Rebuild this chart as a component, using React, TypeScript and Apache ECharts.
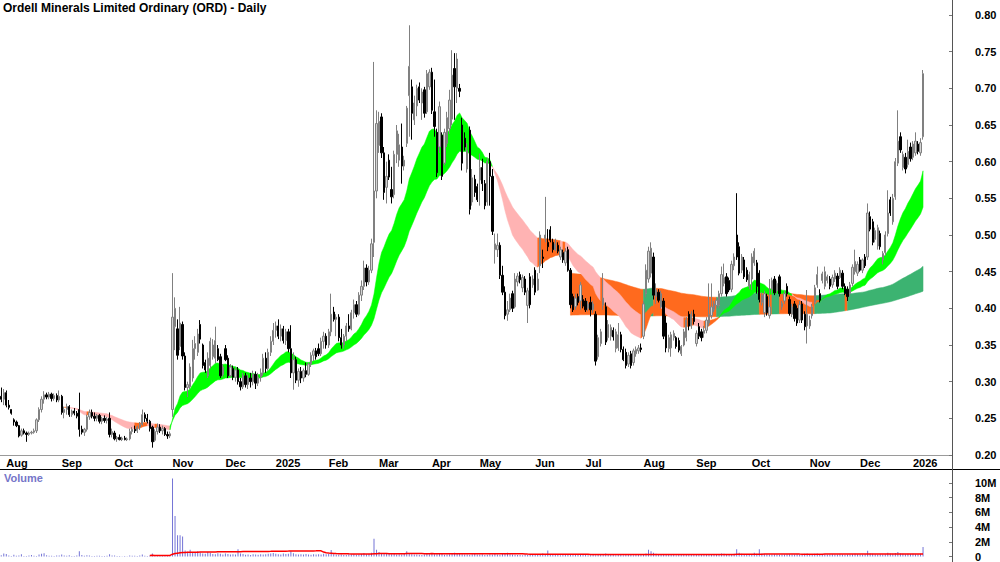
import React, { useEffect, useRef } from 'react';
import * as echarts from 'echarts';

// ---------- DATA (prices in thousandths of a dollar: [open, high, low, close]) ----------
const jul24 = [[280,292,272,276],[276,290,268,285]];
const aug24 = [[285,288,265,268],[268,275,262,265],[262,262,255,257],[248,250,240,245],[245,247,238,240],[240,241,224,226],[227,236,225,233],[233,236,228,230],[230,232,218,228],[228,232,226,230],[230,233,228,231],[231,236,229,233],[233,250,230,248],[248,265,245,262],[262,280,258,276],[276,287,270,282],[282,285,276,279],[279,286,276,283],[283,285,273,277],[277,284,274,281],[281,284,272,275],[275,288,272,280]];
const sep24 = [[280,282,255,258],[258,266,250,262],[262,270,255,266],[266,268,252,255],[255,262,252,260],[260,264,254,257],[257,260,250,253],[262,285,225,235],[235,240,228,231],[231,237,226,235],[235,255,232,252],[252,262,248,258],[258,262,250,253],[253,258,246,250],[250,256,246,254],[254,256,243,246],[246,252,242,250],[250,254,244,247],[247,252,243,249],[250,258,224,228],[228,236,224,232]];
const oct24 = [[230,233,220,222],[222,226,218,224],[224,228,220,221],[221,225,219,223],[223,226,220,221],[221,224,219,222],[222,236,220,232],[232,238,228,235],[235,240,230,233],[233,240,230,238],[238,245,234,242],[242,262,240,255],[255,258,245,250],[250,256,243,246],[246,248,232,236],[238,240,210,218],[220,235,218,232],[232,243,228,238],[238,242,230,233],[233,240,228,236],[236,238,226,228],[228,232,222,226],[226,232,223,229]];
const nov24 = [[262,448,252,388],[375,415,343,400],[372,385,330,336],[348,402,343,380],[378,382,330,335],[335,340,288,292],[292,300,279,296],[293,325,290,320],[305,357,300,345],[345,362,330,352],[340,372,335,365],[378,384,352,358],[350,352,318,322],[326,330,312,316],[308,340,305,332],[322,360,318,355],[334,358,330,350],[332,375,325,356],[345,350,328,330],[334,338,305,308],[310,324,306,320]];
const dec24 = [[345,350,328,330],[332,336,305,308],[308,324,306,320],[318,322,302,306],[306,320,300,316],[316,320,296,300],[300,305,288,293],[293,312,290,308],[308,312,292,296],[296,310,290,305],[305,312,292,300],[300,315,295,310],[310,314,290,298],[298,312,294,306],[306,318,300,312],[312,338,308,332],[332,340,312,318],[318,345,315,340],[340,362,335,355],[355,380,350,370]];
const jan25 = [[370,382,360,376],[376,385,358,362],[362,378,355,372],[372,376,352,356],[356,372,350,368],[368,372,340,345],[345,377,305,312],[312,340,289,330],[330,334,298,302],[302,318,293,314],[314,320,298,305],[305,318,300,315],[315,326,306,310],[310,326,308,324],[324,340,320,336],[336,345,328,342],[342,346,330,334],[345,352,335,338],[338,360,335,355],[355,368,345,362],[362,366,345,350]];
const feb25 = [[350,372,346,368],[368,420,362,392],[395,402,382,385],[385,392,362,388],[388,392,355,360],[360,372,345,350],[350,365,345,362],[362,380,355,376],[376,392,368,372],[372,398,370,394],[394,412,386,405],[405,410,388,392],[392,422,390,418],[418,438,410,430],[430,465,425,455],[455,460,430,436],[436,458,432,452],[452,495,448,488],[490,736,470,560],[560,670,550,652]];
const mar25 = [[622,668,612,655],[661,666,605,612],[612,620,548,558],[565,600,543,580],[602,610,575,579],[562,593,543,552],[555,615,550,610],[610,650,598,642],[602,638,593,623],[620,652,570,594],[594,608,588,602],[625,676,620,673],[690,786,634,730],[702,712,630,666],[657,690,650,680],[676,705,662,700],[702,708,680,684],[680,700,657,695],[698,702,660,666],[668,725,665,720],[702,726,698,722]];
const apr25 = [[722,728,665,670],[668,712,634,648],[640,645,579,585],[620,682,612,675],[636,640,575,580],[598,645,595,640],[625,668,620,660],[645,698,638,684],[658,752,650,718],[727,748,657,702],[700,748,680,740],[700,706,688,696],[650,660,588,598],[632,640,615,620],[590,625,585,615],[643,648,528,535],[545,590,540,578],[576,582,552,558],[566,570,545,548]];
const may25 = [[575,611,540,592],[592,604,560,570],[570,575,535,540],[545,605,540,600],[600,612,540,580],[580,590,500,505],[480,502,461,488],[480,502,470,486],[486,490,440,445],[445,458,418,422],[422,430,385,390],[392,410,383,398],[398,420,395,414],[420,424,395,400],[402,448,400,440],[436,448,430,444],[446,450,434,439],[428,446,422,442],[440,444,418,422],[404,428,380,424],[443,448,400,405],[432,445,428,440]];
const jun25 = [[452,456,418,422],[425,448,424,440],[458,505,448,500],[470,480,455,468],[495,552,490,500],[490,508,478,484],[507,512,490,493],[490,495,476,480],[480,495,478,488],[486,490,475,478],[470,484,466,480],[476,480,462,466],[462,482,458,478],[480,484,450,452],[452,455,400,405],[416,420,395,398],[402,420,398,414],[416,420,404,408],[410,436,398,432],[412,418,400,403]];
const jul25 = [[410,414,395,398],[400,410,396,406],[408,416,389,398],[398,410,394,406],[392,396,322,328],[334,364,330,360],[352,372,348,368],[404,448,398,414],[402,408,350,354],[360,384,356,378],[362,378,356,374],[370,374,356,361],[345,372,340,368],[346,380,342,364],[364,368,340,344],[344,348,328,330],[340,345,318,322],[324,340,320,336],[338,342,318,322],[326,345,322,342],[338,348,334,344],[342,350,338,346],[346,352,340,344]];
const aug25 = [[362,410,358,406],[420,460,415,452],[440,484,435,478],[448,490,442,482],[470,476,412,418],[416,434,406,425],[422,426,408,411],[402,424,400,420],[410,414,358,362],[380,390,340,346],[345,364,340,360],[346,368,334,364],[360,370,356,366],[360,362,345,348],[356,360,340,343],[338,350,335,348],[350,372,348,368],[360,388,355,384],[392,396,370,376],[376,396,372,392],[392,398,378,382]];
const sep25 = [[352,370,348,366],[375,380,358,362],[368,372,355,360],[366,376,360,370],[370,388,366,384],[380,434,376,392],[390,434,386,402],[398,410,395,406],[404,414,400,411],[404,424,400,420],[420,457,416,446],[434,461,430,442],[443,448,416,420],[438,442,422,425],[426,465,422,460],[458,475,452,470],[500,557,466,470],[484,490,445,448],[452,474,448,470],[466,470,440,443],[452,456,436,439],[430,450,426,446]];
const oct25 = [[440,475,425,470],[462,482,458,478],[462,466,420,430],[448,452,408,412],[408,422,404,418],[394,424,388,420],[416,420,390,394],[390,440,386,402],[426,442,420,438],[440,444,418,421],[424,438,420,434],[443,446,416,420],[402,410,398,407],[410,424,406,420],[430,434,416,420],[412,416,390,393],[392,406,388,402],[406,410,382,386],[400,404,376,380],[384,410,380,405],[406,410,380,384],[392,396,370,375],[376,425,352,392]];
const nov25 = [[376,390,372,384],[390,406,386,402],[408,432,404,428],[432,457,428,446],[420,426,408,411],[438,450,434,447],[430,457,426,450],[438,446,434,443],[440,444,426,430],[432,446,428,442],[440,452,436,448],[444,448,426,430],[442,456,440,452],[448,452,426,430],[430,434,418,420],[426,430,410,416],[420,436,416,432],[434,460,430,456],[450,480,446,464],[448,464,444,460]];
const dec25 = [[466,470,450,452],[452,468,448,466],[470,474,455,458],[470,543,466,530],[525,532,505,508],[518,522,486,490],[494,510,490,506],[485,514,480,510],[502,506,480,484],[466,478,460,475],[476,505,472,500],[502,561,498,530],[548,552,526,530],[518,556,514,550],[552,605,548,600],[598,670,594,628],[634,640,612,616],[592,614,588,610],[606,612,584,590],[596,630,592,614],[620,626,600,604]];
const jan26 = [[606,628,602,624],[612,640,608,628],[624,628,610,614],[612,632,608,626],[634,725,630,720]];

// Volume, thousands of shares
const volJul24 = [180,420];
const volAug24 = [350,120,60,240,90,150,310,80,60,120,200,90,70,260,380,450,160,110,90,70,130,150];
const volSep24 = [260,140,90,180,70,60,120,700,210,90,170,120,80,60,110,90,70,60,100,310,130];
const volOct24 = [150,80,60,50,70,40,140,110,90,60,120,260,110,80,150,420,160,120,90,80,110,60,90];
const volNov24 = [10600,5500,2900,2900,2700,800,650,900,500,600,700,550,420,380,600,480,350,300,450,380,260];
const volDec24 = [420,350,280,300,260,1000,420,330,250,280,220,300,260,240,320,280,300,380,420,460];
const volJan25 = [380,300,260,420,350,380,700,450,320,280,300,260,350,280,240,300,280,320,260,380,300];
const volFeb25 = [350,880,320,280,240,260,200,220,300,260,320,240,280,340,480,300,360,520,2400,900];
const volMar25 = [600,450,380,420,350,300,360,280,300,260,380,700,420,300,280,260,240,220,280,360,300];
const volApr25 = [400,320,300,380,340,250,280,300,420,520,380,360,300,280,260,240,300,350,280];
const volMay25 = [260,300,220,240,320,280,420,260,240,480,360,520,300,260,240,220,200,180,240,220,260,300];
const volJun25 = [240,220,260,420,280,800,300,260,220,200,180,220,200,240,260,340,280,220,200,240];
const volJul25 = [200,180,160,220,180,300,240,200,420,260,220,200,180,240,200,180,220,260,200,180,220,200,240];
const volAug25 = [280,420,900,700,520,360,280,240,300,320,260,220,200,180,240,220,200,240,280,300,260];
const volSep25 = [260,240,220,200,240,300,280,260,240,300,420,380,300,280,320,360,980,520,360,300,280,260];
const volOct25 = [300,520,360,1000,400,340,300,260,280,320,260,240,280,260,300,320,280,260,300,280,320,360,420];
const volNov25 = [300,280,360,400,300,260,320,280,260,300,280,260,300,260,240,280,260,320,360,300];
const volDec25 = [280,260,300,780,420,360,300,280,300,260,300,520,400,360,480,620,420,360,320,380,340];
const volJan26 = [360,320,300,380,1300];

const START_DATE = '2024-07-30';
const HOLIDAYS = ['2024-12-25','2024-12-26','2025-01-01','2025-01-27','2025-04-18','2025-04-21','2025-04-25','2025-06-09','2025-12-25','2025-12-26','2026-01-01'];
const MONTHS = ['Jan','Feb','Mar','Apr','May','Jun','Jul','Aug','Sep','Oct','Nov','Dec'];
const PRICE_TICKS = { min: 0.2, max: 0.8, interval: 0.05 };
const VOL_TICKS = { min: 0, max: 11750000, interval: 2000000 };
const SHORT_FAST = 20, SHORT_SLOW = 40, SHORT_START = 25;
const LONG_EMA = 175, LONG_SMA = 330, LONG_START = 226, LONG_SLOPE_LAG = 2;
const VOL_MA = 60;
const EMPTY_SLOTS = 11;

// ---------- derived ----------
const ohlc: number[][] = [jul24, aug24, sep24, oct24, nov24, dec24, jan25, feb25, mar25, apr25, may25, jun25, jul25, aug25, sep25, oct25, nov25, dec25, jan26].flat();
const volumes: number[] = [volJul24, volAug24, volSep24, volOct24, volNov24, volDec24, volJan25, volFeb25, volMar25, volApr25, volMay25, volJun25, volJul25, volAug25, volSep25, volOct25, volNov25, volDec25, volJan26].flat().map((v) => v * 1000);
const N = ohlc.length;

function tradingDays(start: string, n: number) {
  const out: string[] = [];
  const d = new Date(start + 'T00:00:00Z');
  while (out.length < n) {
    const dow = d.getUTCDay();
    const s = d.toISOString().slice(0, 10);
    if (dow !== 0 && dow !== 6 && !HOLIDAYS.includes(s)) out.push(s);
    d.setUTCDate(d.getUTCDate() + 1);
  }
  return out;
}
const dates = tradingDays(START_DATE, N + EMPTY_SLOTS);
const monthStart = dates.map((d, i) => i > 0 && d.slice(5, 7) !== dates[i - 1].slice(5, 7));
const monthLabel = (d: string) => {
  const m = parseInt(d.slice(5, 7), 10);
  return m === 1 ? d.slice(0, 4) : MONTHS[m - 1];
};

const closes = ohlc.map((r) => r[3] / 1000);
function ema(arr: number[], p: number) {
  const k = 2 / (p + 1);
  const out: number[] = [];
  let e = arr[0];
  arr.forEach((v, i) => { e = i === 0 ? v : v * k + e * (1 - k); out.push(e); });
  return out;
}
function sma(arr: number[], p: number) {
  return arr.map((_, i) => {
    const a = Math.max(0, i - p + 1);
    let s = 0;
    for (let j = a; j <= i; j++) s += arr[j];
    return s / (i - a + 1);
  });
}
const sFast = ema(closes, SHORT_FAST), sSlow = ema(closes, SHORT_SLOW);
const lFast = ema(closes, LONG_EMA), lSlow = sma(closes, LONG_SMA);

const COLORS = ['#00ff00', '#ff6a1e', '#ffb3b3', '#3cb371'];
function buildRuns(state: (i: number) => number, start: number, up: number[], lo: number[]) {
  const res: number[][] = [];
  let s = start, cur = state(start + 1);
  for (let i = start + 1; i < N; i++) {
    const st = state(i);
    if (st !== cur) { res.push([s, i - 1, cur]); s = i - 1; cur = st; }
  }
  res.push([s, N - 1, cur]);
  return res.map(([a, b, c]) => {
    let mn = Infinity, mx = -Infinity;
    for (let i = a; i <= b; i++) { mn = Math.min(mn, up[i], lo[i]); mx = Math.max(mx, up[i], lo[i]); }
    return [a, b, c, mn, mx];
  });
}
const shortRuns = buildRuns((i) => (sFast[i] >= sSlow[i] ? 0 : closes[i] < Math.min(sFast[i], sSlow[i]) ? 2 : 1), SHORT_START, sFast, sSlow);
const longRuns = buildRuns((i) => (lFast[i] >= lFast[i - LONG_SLOPE_LAG] ? 3 : 1), LONG_START, lFast, lSlow);

const volMA = volumes.map((_, i) => {
  if (i < VOL_MA - 1) return null;
  let s = 0;
  for (let j = i - VOL_MA + 1; j <= i; j++) s += volumes[j];
  return s / VOL_MA;
});

const FONT = '"Liberation Sans Narrow", "Arial Narrow", "Liberation Sans", Arial, sans-serif';

function bandSeries(name: string, runs: number[][], up: number[], lo: number[], z: number) {
  return {
    name, type: 'custom', xAxisIndex: 0, yAxisIndex: 0, z, silent: true,
    encode: { x: [0, 1], y: [3, 4] },
    data: runs,
    renderItem: (_p: any, api: any) => {
      const a = api.value(0), b = api.value(1), c = api.value(2);
      const top: number[][] = [], bot: number[][] = [];
      for (let i = a; i <= b; i++) {
        top.push(api.coord([i, up[i]]));
        bot.push(api.coord([i, lo[i]]));
      }
      return {
        type: 'polygon',
        shape: { points: top.concat(bot.reverse()) },
        style: { fill: COLORS[c], stroke: COLORS[c], lineWidth: 0.5 },
      };
    },
  };
}

export default function App() {
  const ref = useRef<HTMLDivElement>(null);
  useEffect(() => {
    const chart = echarts.init(ref.current!, undefined, { renderer: 'svg' });
    const option: any = {
      animation: false,
      backgroundColor: '#ffffff',
      grid: [
        { left: 0, right: 48, top: 15, bottom: 107 },
        { left: 0, right: 48, top: 470, bottom: 5 },
      ],
      xAxis: [
        {
          type: 'category', gridIndex: 0, data: dates, boundaryGap: true,
          axisLine: { lineStyle: { color: '#9a9a9a', width: 1 } },
          axisTick: { interval: (i: number) => monthStart[i], alignWithLabel: true, length: 3, lineStyle: { color: '#606060' } },
          axisLabel: {
            interval: (i: number) => monthStart[i], formatter: (v: string) => monthLabel(v),
            align: 'left', margin: 2, fontSize: 11, fontWeight: 'bold', color: '#000', fontFamily: FONT,
          },
          splitLine: { show: false },
        },
        {
          type: 'category', gridIndex: 1, data: dates, boundaryGap: true,
          axisLine: { show: false }, axisTick: { show: false }, axisLabel: { show: false }, splitLine: { show: false },
        },
      ],
      yAxis: [
        {
          type: 'value', gridIndex: 0, position: 'right', ...PRICE_TICKS,
          axisLine: { show: true, lineStyle: { color: '#555' } },
          axisTick: { show: true, inside: true, length: 3, lineStyle: { color: '#777' } },
          axisLabel: { formatter: (v: number) => v.toFixed(2), margin: 23, fontSize: 11, fontWeight: 'bold', color: '#000', fontFamily: FONT },
          splitLine: { show: false },
        },
        {
          type: 'value', gridIndex: 1, position: 'right', ...VOL_TICKS,
          axisLine: { show: true, lineStyle: { color: '#555' } },
          axisTick: { show: true, inside: true, length: 3, lineStyle: { color: '#777' } },
          axisLabel: {
            showMaxLabel: false, margin: 23, fontSize: 11, fontWeight: 'bold', color: '#000', fontFamily: FONT,
            formatter: (v: number) => (v === 0 ? '0' : v / 1e6 + 'M'),
          },
          splitLine: { show: false },
        },
      ],
      series: [
        bandSeries('long', longRuns, lFast, lSlow, 1),
        bandSeries('short', shortRuns, sFast, sSlow, 2),
        {
          name: 'price', type: 'candlestick', xAxisIndex: 0, yAxisIndex: 0, z: 3,
          barWidth: 1.8,
          data: ohlc.map(([o, h, l, c]) => [o / 1000, c / 1000, l / 1000, h / 1000]),
          itemStyle: { color: '#d4d4d4', color0: '#000000', borderColor: '#808080', borderColor0: '#000000', borderWidth: 1 },
        },
        {
          name: 'volume', type: 'bar', xAxisIndex: 1, yAxisIndex: 1, barWidth: 1,
          data: volumes, itemStyle: { color: '#7474d6' },
        },
        {
          name: 'volMA', type: 'line', xAxisIndex: 1, yAxisIndex: 1, data: volMA,
          symbol: 'none', lineStyle: { color: '#ff0000', width: 1.5 }, z: 4,
        },
      ],
      graphic: [
        { type: 'line', shape: { x1: 0, y1: 469.5, x2: 1000, y2: 469.5 }, style: { stroke: '#000', lineWidth: 1 }, z: 10 },
        { type: 'line', shape: { x1: 952.5, y1: 0, x2: 952.5, y2: 562 }, style: { stroke: '#555', lineWidth: 1 }, z: 10 },
        { type: 'text', x: 3, y: 2, style: { text: 'Ordell Minerals Limited Ordinary (ORD) - Daily', fontSize: 12, fontWeight: 'bold', fill: '#000', fontFamily: FONT }, z: 10 },
        { type: 'text', x: 4, y: 472, style: { text: 'Volume', fontSize: 11, fontWeight: 'bold', fill: '#7575c8', fontFamily: FONT }, z: 10 },
      ],
    };
    chart.setOption(option);
    return () => chart.dispose();
  }, []);
  return <div ref={ref} style={{ position: 'absolute', left: 0, top: 0, width: 1000, height: 562 }} />;
}
